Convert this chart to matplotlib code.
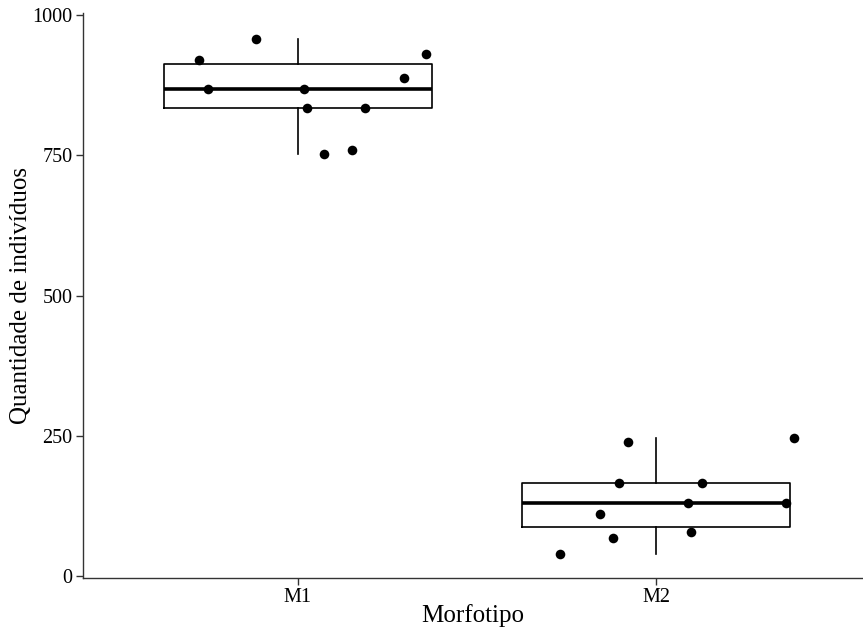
import matplotlib
matplotlib.use("Agg")
import matplotlib.pyplot as plt
import numpy as np

# abundance per morphotype
categories = ["M1", "M2"]

m1_counts = [920, 958, 931, 888, 869, 869, 834, 834, 753, 760]
m1_jitter = [-0.277, -0.116, 0.357, 0.296, -0.252, 0.018, 0.025, 0.187, 0.073, 0.151]

m2_counts = [239, 246, 165, 165, 130, 130, 110, 68, 79, 39]
m2_jitter = [-0.079, 0.385, -0.103, 0.129, 0.090, 0.363, -0.156, -0.121, 0.098, -0.267]

# box summaries (whisker low, q1, median, q3, whisker high)
whisker_low = [753, 40]
q1 = [834, 87]
medians = [869, 130]
q3 = [912, 165]
whisker_high = [958, 246]

plt.rcParams["font.family"] = ["Liberation Serif", "DejaVu Serif"]

fig = plt.figure(figsize=(8.63, 6.27), dpi=100)
ax = fig.add_axes([83 / 863, 1 - 577.5 / 627, 1 - 83 / 863, (577.5 - 13) / 627])

stats = []
for i, name in enumerate(categories):
    stats.append({
        "label": name,
        "whislo": whisker_low[i],
        "q1": q1[i],
        "med": medians[i],
        "q3": q3[i],
        "whishi": whisker_high[i],
        "fliers": [],
    })

ax.bxp(
    stats,
    positions=[1, 2],
    widths=0.75,
    showcaps=False,
    boxprops=dict(color="black", linewidth=1.2),
    whiskerprops=dict(color="black", linewidth=1.2),
    medianprops=dict(color="black", linewidth=2.6),
)

for pos, counts, jit in [(1, m1_counts, m1_jitter), (2, m2_counts, m2_jitter)]:
    ax.scatter(pos + np.array(jit), counts, s=48, color="black", zorder=3, linewidths=0)

ax.set_xlim(0.4, 2.578)
ax.set_ylim(-2.7, 1003.6)
ax.set_yticks([0, 250, 500, 750, 1000])
ax.set_xticks([1, 2])
ax.set_xticklabels(categories)

for side in ["top", "right"]:
    ax.spines[side].set_visible(False)
for side in ["left", "bottom"]:
    ax.spines[side].set_color("#333333")
    ax.spines[side].set_linewidth(1.0)

ax.tick_params(axis="both", colors="#333333", length=5, width=1.0,
               labelsize=14.5, labelcolor="black", pad=2.5)

ax.set_xlabel("Morfotipo", fontsize=18, labelpad=-2)
ax.set_ylabel("Quantidade de indivíduos", fontsize=18, labelpad=0)

fig.savefig("out.png", dpi=100)
